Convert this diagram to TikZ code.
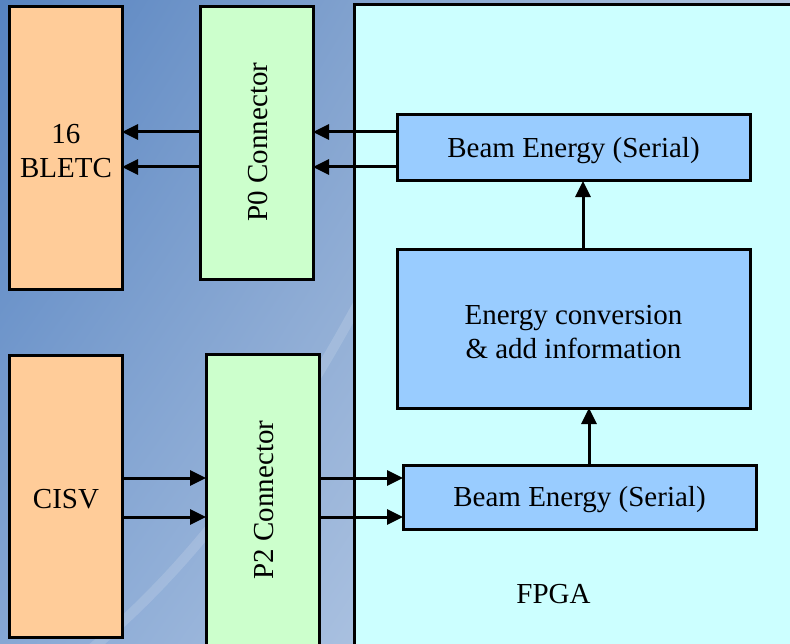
\documentclass[tikz,border=0pt]{standalone}
\usepackage{fontspec}
\setmainfont{LiberationSerif}[Extension=.ttf,UprightFont=*-Regular,BoldFont=*-Bold]
\newfontfamily\tms{LiberationSerif}[Extension=.ttf,UprightFont=*-Regular,BoldFont=*-Bold]
\usepackage{graphicx}
\usetikzlibrary{arrows.meta,shadings}
\definecolor{bgA}{HTML}{5683C1}
\definecolor{bgB}{HTML}{B4C6DE}
\definecolor{bgC}{HTML}{86A7D4}
\definecolor{bgD}{HTML}{D4DFEE}
\definecolor{orangebox}{HTML}{FFCC99}
\definecolor{greenbox}{HTML}{CCFFCC}
\definecolor{cyanbox}{HTML}{CCFFFF}
\definecolor{bluebox}{HTML}{99CCFF}
\begin{document}
\begin{tikzpicture}[x=1bp,y=-1bp,
  box/.style={draw=black,line width=3bp,inner sep=0pt,outer sep=0pt},
  txt/.style={font=\tms\fontsize{29bp}{34bp}\selectfont,inner sep=0pt,align=center},
  lbl/.style={label={[txt,yshift=-3bp]center:#1}},
  arr/.style={line width=3bp,-{Triangle[length=16bp,width=15bp]}}]
\useasboundingbox (0,0) rectangle (790,644);
\clip (0,0) rectangle (790,644);
\shade[upper left=bgA, upper right=bgB, lower left=bgC, lower right=bgD] (0,0) rectangle (790,644);
\draw[white,opacity=0.15,line width=10bp] (90,650) .. controls (200,560) and (290,430) .. (360,300);
% boxes
\node[box,fill=orangebox,minimum width=112bp,minimum height=282bp,lbl={16\\BLETC}] (bletc) at (66,148) {};
\node[box,fill=greenbox,minimum width=113bp,minimum height=272bp] (p0) at (256.5,143) {};
\node[txt,rotate=90] (p0t) at (258,142) {P0 Connector};
\node[box,fill=orangebox,minimum width=112bp,minimum height=282bp,lbl={CISV}] (cisv) at (66,496) {};
\node[box,fill=greenbox,minimum width=113bp,minimum height=330bp] (p2) at (262.5,519) {};
\node[txt,rotate=90] (p2t) at (264,500) {P2 Connector};
\node[box,fill=cyanbox,minimum width=520bp,minimum height=720bp] (fpga) at (614,365) {};
\node[txt,anchor=base] (fpgat) at (553.5,603) {FPGA};
\node[box,fill=bluebox,minimum width=353bp,minimum height=66bp,lbl={Beam Energy (Serial)}] (be1) at (573.5,148) {};
\node[box,fill=bluebox,minimum width=353bp,minimum height=158bp,lbl={Energy conversion\\\& add information}] (ec) at (573.5,329) {};
\node[box,fill=bluebox,minimum width=353bp,minimum height=64bp,lbl={Beam Energy (Serial)}] (be2) at (579.5,497) {};
% connectors
\draw[arr] ([yshift=16bp]be1.west) -- ([yshift=16bp]be1.west -| p0.east);
\draw[arr] ([yshift=-19bp]be1.west) -- ([yshift=-19bp]be1.west -| p0.east);
\draw[arr] ([yshift=16bp]be1.west -| p0.west) -- ([yshift=16bp]be1.west -| bletc.east);
\draw[arr] ([yshift=-19bp]be1.west -| p0.west) -- ([yshift=-19bp]be1.west -| bletc.east);
\draw[arr] ([yshift=19bp]be2.west -| cisv.east) -- ([yshift=19bp]be2.west -| p2.west);
\draw[arr] ([yshift=-20bp]be2.west -| cisv.east) -- ([yshift=-20bp]be2.west -| p2.west);
\draw[arr] ([yshift=19bp]be2.west -| p2.east) -- ([yshift=19bp]be2.west);
\draw[arr] ([yshift=-20bp]be2.west -| p2.east) -- ([yshift=-20bp]be2.west);
\draw[arr] ([xshift=9.5bp]be2.north) -- ([xshift=9.5bp]be2.north |- ec.south);
\draw[arr] ([xshift=9.5bp]ec.north) -- ([xshift=9.5bp]ec.north |- be1.south);
\end{tikzpicture}
\end{document}
